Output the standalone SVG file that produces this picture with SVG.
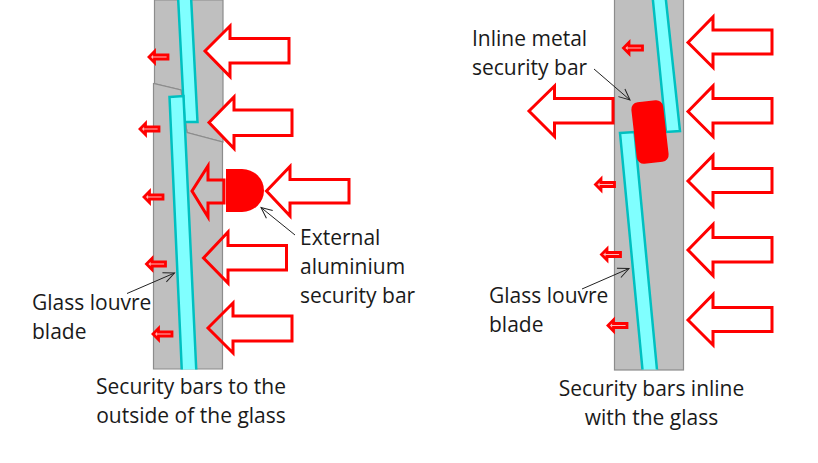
<svg xmlns="http://www.w3.org/2000/svg" width="818" height="463" viewBox="0 0 818 463">
<style>
text{font-family:"Open Sans","Noto Sans","Liberation Sans",sans-serif;font-size:21px;fill:#1a1a1a}
.wall{fill:#bfbfbf;stroke:#8c8c8c;stroke-width:1.2}
.blade{fill:#80ffff;stroke:#00c0c0;stroke-width:2.500}
.big{fill:#fff;stroke:#f00;stroke-width:3}
.big-g{fill:none;stroke:#f00;stroke-width:3}
.small{fill:#ffb8b8;stroke:#f00;stroke-width:2.800}
.lead{fill:none;stroke:#222;stroke-width:1;marker-end:url(#open)}
</style>
<defs>
<marker id="open" markerUnits="userSpaceOnUse" markerWidth="14" markerHeight="14" refX="12" refY="6" orient="auto" viewBox="0 0 14 12">
<path d="M1 1 L12 6 L1 11" fill="none" stroke="#222" stroke-width="1"/>
</marker>
<polygon id="small-arrow" class="small" points="2,0 7.500,-5.500 7.500,-2 21,-2 21,2 7.500,2 7.500,5.500"/>
<clipPath id="sill"><rect x="100" y="-5" width="620" height="374.500"/></clipPath>
</defs>
<rect width="818" height="463" fill="#fff"/>
<g id="left-assembly">
<path class="wall" d="M154.500 0H223V142L187 132.500L181 90L154.500 83.500Z"/>
<path class="wall" d="M153.500 83.500L181 90L187 132.500L222.500 142V369H153.500Z"/>
<polygon class="blade" points="178,-4 191,-4 197.500,122 184.500,122"/>
<polygon class="blade" clip-path="url(#sill)" points="169.500,97 183.500,96 196.500,375 182,375"/>
</g>
<g id="right-assembly">
<rect class="wall" x="614.500" y="-2" width="69" height="372"/>
<polygon class="blade" points="652.500,-4 665.500,-4 680,131 666,132"/>
<polygon class="blade" clip-path="url(#sill)" points="620,133 634.500,132 657.500,375 643,375"/>
<rect id="inline-bar" x="634" y="101" width="32" height="62" rx="7" fill="#f00" transform="rotate(-6.500 650 132)"/>
</g>
<g id="external-bar"><path d="M226 169H242A22 21.500 0 0 1 242 212H226Z" fill="#f00"/></g>
<g id="flow-arrows">
<polygon class="big" points="205,51 230,26 230,38.500 289,38.500 289,63 230,63 230,76.500"/>
<polygon class="big" points="209,122.500 234,97 234,110 292,110 292,135.500 234,135.500 234,148.500"/>
<polygon class="big-g" points="192,191 208,166 208,180 224,180 224,203 208,203 208,217"/>
<polygon class="big" points="266.500,191 290,166.500 290,179.500 349,179.500 349,203 290,203 290,216"/>
<polygon class="big-g" points="203.500,258 228,232 228,245.500 286.500,245.500 286.500,270 228,270 228,283"/>
<polygon class="big-g" points="208,328 233,303 233,316 292,316 292,341 233,341 233,353"/>
<use href="#small-arrow" x="147" y="57"/>
<use href="#small-arrow" x="138" y="129"/>
<use href="#small-arrow" x="142" y="197"/>
<use href="#small-arrow" x="144.500" y="264"/>
<use href="#small-arrow" x="151" y="334"/>
<polygon class="big" points="688,42.500 713,17 713,30 772,30 772,54 713,54 713,67.500"/>
<polygon class="big" points="688,111.500 713,86 713,98.500 772,98.500 772,123 713,123 713,136.500"/>
<polygon class="big" points="688,181 713,155.500 713,168.500 772,168.500 772,192.500 713,192.500 713,206"/>
<polygon class="big" points="688,250 713,224.500 713,237.500 772,237.500 772,262 713,262 713,275.500"/>
<polygon class="big" points="688,320 713,294.500 713,307.500 772,307.500 772,331.500 713,331.500 713,345"/>
<polygon class="big" points="529,111 554.500,86 554.500,98.500 613,98.500 613,123 554.500,123 554.500,136.500"/>
<use href="#small-arrow" x="621.500" y="48"/>
<use href="#small-arrow" x="593.500" y="184.500"/>
<use href="#small-arrow" x="599.500" y="254.500"/>
<use href="#small-arrow" x="606" y="325.500"/>
</g>
<g id="leaders">
<line class="lead" x1="295" y1="235" x2="261" y2="207.500"/>
<line class="lead" x1="127" y1="293.500" x2="174.500" y2="273"/>
<line class="lead" x1="594" y1="69" x2="630" y2="100"/>
<line class="lead" x1="582" y1="289" x2="629" y2="268.500"/>
</g>
<g id="labels">
<text x="300" y="245">External</text>
<text x="300" y="274">aluminium</text>
<text x="300" y="303">security bar</text>
<text x="32" y="310">Glass louvre</text>
<text x="32" y="339">blade</text>
<text x="472" y="46">Inline metal</text>
<text x="472" y="75">security bar</text>
<text x="489" y="303">Glass louvre</text>
<text x="489" y="332">blade</text>
<text x="191" y="394" text-anchor="middle">Security bars to the</text>
<text x="191" y="423" text-anchor="middle">outside of the glass</text>
<text x="651.500" y="396" text-anchor="middle">Security bars inline</text>
<text x="651.500" y="425" text-anchor="middle">with the glass</text>
</g>
</svg>
